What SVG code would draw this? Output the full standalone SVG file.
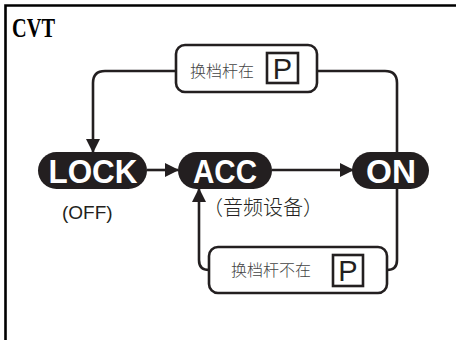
<svg xmlns="http://www.w3.org/2000/svg" width="456" height="342" viewBox="0 0 456 342">
<defs>
<marker id="arr" markerUnits="userSpaceOnUse" markerWidth="14" markerHeight="14" viewBox="0 0 14 14" refX="13" refY="7" orient="auto">
<path d="M0,0 L14,7 L0,14 Z" fill="#231f20"/>
</marker>
</defs>
<style>
.frame{fill:none;stroke:#000;stroke-width:2.6}
.conn{fill:none;stroke:#231f20;stroke-width:2.6}
.pill{fill:#231f20}
.pt{font-family:"Liberation Sans",Arial,sans-serif;font-weight:bold;font-size:33px;fill:#fff;text-anchor:middle}
.box{fill:#fff;stroke:#231f20;stroke-width:2.6}
.pbox{fill:#fff;stroke:#231f20;stroke-width:2.6}
.cj{font-family:"Noto Sans CJK SC","Liberation Sans",sans-serif;font-size:16px;font-weight:300;fill:#444}
.p{font-family:"Liberation Sans",Arial,sans-serif;font-size:29px;fill:#231f20;text-anchor:middle}
.sub{font-family:"Liberation Sans",Arial,sans-serif;font-size:19px;fill:#231f20}
</style>
<rect width="456" height="342" fill="#fff"/>
<path class="frame" d="M5.5,340 V5.5 H456"/>
<text x="12" y="37" font-family="'Liberation Serif','Times New Roman',serif" font-size="27" font-weight="bold" textLength="43" lengthAdjust="spacingAndGlyphs" fill="#000">CVT</text>

<g id="connectors">
<path class="conn" d="M147,170 H178" marker-end="url(#arr)"/>
<path class="conn" d="M272,170 H353" marker-end="url(#arr)"/>
<path class="conn" d="M397,152 V83 Q397,71 385,71 H317"/>
<path class="conn" d="M176,71 H105 Q93,71 93,83 V152" marker-end="url(#arr)"/>
<path class="conn" d="M397,189 V260 Q397,270 387,270"/>
<path class="conn" d="M209,270 Q199,270 199,260 V189" marker-end="url(#arr)"/>
</g>

<g id="lock">
<rect class="pill" x="38" y="152" width="109" height="37" rx="18.5"/>
<text class="pt" x="93" y="182.5" textLength="89" lengthAdjust="spacingAndGlyphs">LOCK</text>
<text class="sub" x="62" y="219">(OFF)</text>
</g>
<g id="acc">
<rect class="pill" x="178" y="152" width="94" height="37" rx="18.5"/>
<text class="pt" x="225" y="182.5" textLength="64" lengthAdjust="spacingAndGlyphs">ACC</text>
<text class="cj" x="203" y="215" style="font-size:20px;fill:#231f20">（音频设备）</text>
</g>
<g id="on">
<rect class="pill" x="352" y="152" width="77" height="37" rx="18.5"/>
<text class="pt" x="391" y="182.5" textLength="50" lengthAdjust="spacingAndGlyphs">ON</text>
</g>

<g id="in-p">
<rect class="box" x="176" y="45" width="141" height="47" rx="9"/>
<text class="cj" x="190" y="77">换档杆在</text>
<rect class="pbox" x="267" y="53" width="31" height="30"/>
<text class="p" x="282.5" y="78.5">P</text>
</g>
<g id="not-in-p">
<rect class="box" x="209" y="247" width="178" height="46" rx="9"/>
<text class="cj" x="231" y="276">换档杆不在</text>
<rect class="pbox" x="333" y="255" width="30" height="31"/>
<text class="p" x="348" y="280.5">P</text>
</g>
</svg>
